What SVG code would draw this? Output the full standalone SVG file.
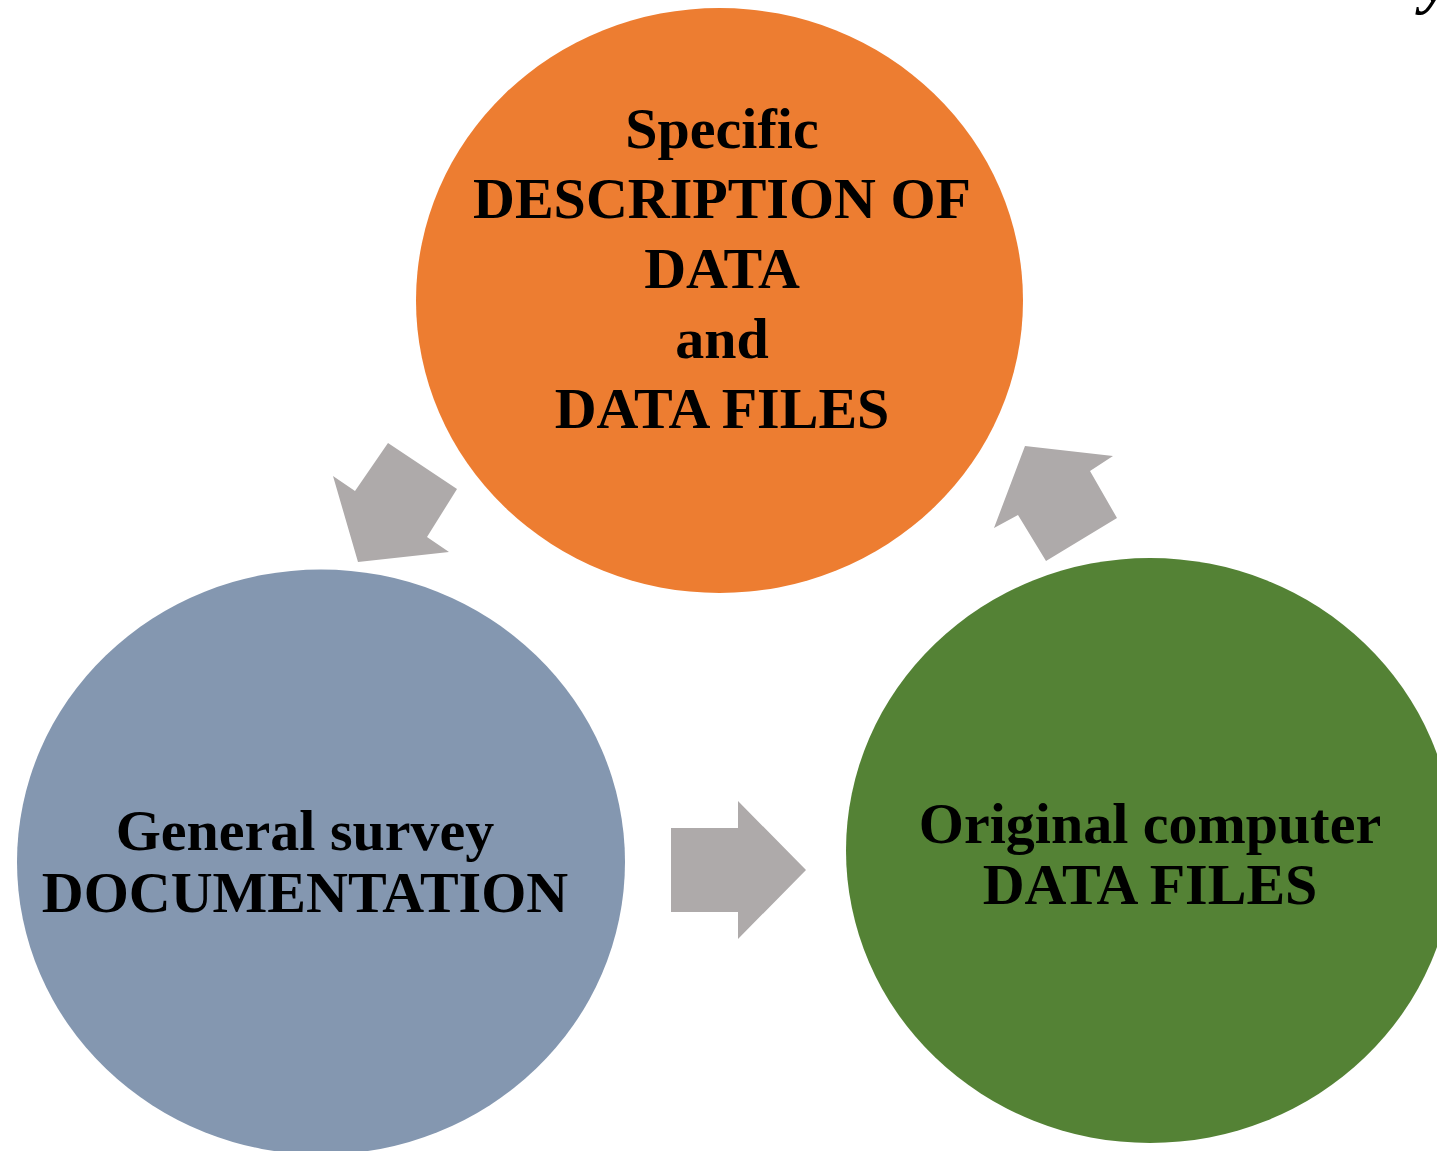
<svg xmlns="http://www.w3.org/2000/svg" width="1437" height="1151" viewBox="0 0 1437 1151">
  <style>
    .lbl { font-family: "Liberation Serif", "Times New Roman", serif; font-weight: bold; font-size: 58px; fill: #000; text-anchor: middle; }
    .arrow { fill: #AEAAAA; }
  </style>
  <rect width="1437" height="1151" fill="#fff"/>

  <g id="node-description">
    <ellipse cx="719.5" cy="300.5" rx="303.5" ry="292.5" fill="#ED7D31"/>
    <text class="lbl" x="722" y="148">Specific</text>
    <text class="lbl" x="722" y="218">DESCRIPTION OF</text>
    <text class="lbl" x="722" y="288">DATA</text>
    <text class="lbl" x="722" y="358">and</text>
    <text class="lbl" x="722" y="428">DATA FILES</text>
  </g>

  <g id="node-documentation">
    <ellipse cx="321" cy="862" rx="304" ry="292.5" fill="#8497B0"/>
    <text class="lbl" x="305" y="850">General survey</text>
    <text class="lbl" x="305" y="912">DOCUMENTATION</text>
  </g>

  <g id="node-datafiles">
    <ellipse cx="1150" cy="850.5" rx="304" ry="292.5" fill="#548235"/>
    <text class="lbl" x="1150" y="843">Original computer</text>
    <text class="lbl" x="1150" y="904">DATA FILES</text>
  </g>

  <g id="connectors">
    <polygon class="arrow" points="388,443 457,489 427,537 449,552 358,562 333,476 355,491"/>
    <polygon class="arrow" points="671,828 738,828 738,801 806,870 738,939 738,912 671,912"/>
    <polygon class="arrow" points="1025,446 1113,456 1090,471 1117,518 1046,561 1018,515 994,528"/>
  </g>

  <!-- tail of a letter from the line above the figure -->
  <text x="1436" y="1" style="font-family: 'Liberation Serif', serif; font-weight: bold; font-style: italic; font-size: 64px;" text-anchor="middle">y</text>
</svg>
